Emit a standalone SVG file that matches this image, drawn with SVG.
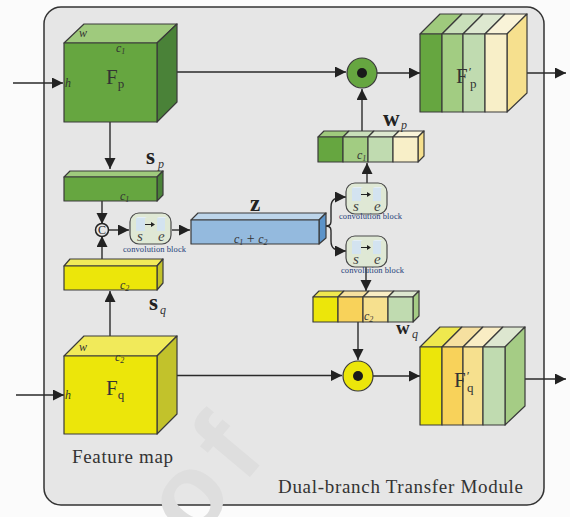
<svg xmlns="http://www.w3.org/2000/svg" width="570" height="517" viewBox="0 0 570 517">
<style>
.s{stroke:#3a3a3a;stroke-width:1.2;stroke-linejoin:round}
.c{fill:none;stroke:#2a2a2a;stroke-width:1.4}
.t{font-family:"Liberation Serif",serif;fill:#333}
.i{font-style:italic;font-size:12px}
.b{font-weight:bold;font-size:23px;fill:#222}
.sub{font-size:13px}
.big{font-size:21px}
.cb{font-family:"Liberation Serif",serif;font-size:8.5px;fill:#1f3f7a}
.se{font-family:"Liberation Serif",serif;font-style:italic;font-size:15px;fill:#444}
.pr{fill:#d3e3f0}
.g1{fill:#66a640}.g2{fill:#a2cc82}.g3{fill:#c0dbb0}.cr{fill:#f8efc8}.y1{fill:#ece60a}.y2{fill:#f8d25a}.y3{fill:#f6e08e}
</style>
<defs>
<marker id="a" markerUnits="userSpaceOnUse" markerWidth="12" markerHeight="12" refX="11" refY="5.500" orient="auto"><path d="M0 0L11 5.500L0 11Z" fill="#222"/></marker>
<g id="cbk">
<rect width="41" height="31" rx="9" fill="#dfe8d5" stroke="#4a4a4a" stroke-width="1.2"/>
<path class="pr" d="M6 5h9v13h-9z"/><path fill="#e4eef6" d="M6 5l2-1h9l-2 1z"/>
<path class="pr" d="M27 5h8v13h-8z"/><path fill="#e4eef6" d="M27 5l2-1h8l-2 1z"/>
<path d="M15 11.500h8" stroke="#222" stroke-width="1"/><path d="M21 9l4 2.500l-4 2.500z" fill="#222"/>
<text class="se" x="7" y="28">s</text><text class="se" x="28" y="28">e</text>
</g>
</defs>
<rect width="570" height="517" fill="#fbfbfb"/>
<g id="panel"><rect x="44" y="7" width="500" height="498" rx="17" fill="#e6e6e6" stroke="#333" stroke-width="1.5"/></g>
<text transform="translate(193 545) rotate(-50)" font-family="Liberation Sans,sans-serif" font-weight="bold" font-size="110" fill="#dedede">o<tspan dx="11">f</tspan></text>

<g id="connectors">
<path class="c" d="M13 83H63" marker-end="url(#a)"/>
<path class="c" d="M16 395H64" marker-end="url(#a)"/>
<path class="c" d="M177 72H346" marker-end="url(#a)"/>
<path class="c" d="M377 73H420" marker-end="url(#a)"/>
<path class="c" d="M518 73H566" marker-end="url(#a)"/>
<path class="c" d="M362 131V89" marker-end="url(#a)"/>
<path class="c" d="M110 122V169" marker-end="url(#a)"/>
<path class="c" d="M102 201V224" marker-end="url(#a)"/>
<path class="c" d="M102 259V236" marker-end="url(#a)"/>
<path class="c" d="M108 230H129" marker-end="url(#a)"/>
<path class="c" d="M172 230H190" marker-end="url(#a)"/>
<path class="c" d="M110 336V291" marker-end="url(#a)"/>
<path class="c" d="M326 226C332 226 331 222 331 216V207C331 200 334 197 346 197" marker-end="url(#a)"/>
<path class="c" d="M326 226C332 226 331 230 331 236V241C331 248 334 251 346 251" marker-end="url(#a)"/>
<path class="c" d="M367 183V163" marker-end="url(#a)"/>
<path class="c" d="M366 266V291" marker-end="url(#a)"/>
<path class="c" d="M358 322V360" marker-end="url(#a)"/>
<path class="c" d="M177 375.500H342" marker-end="url(#a)"/>
<path class="c" d="M373 376H420" marker-end="url(#a)"/>
<path class="c" d="M518 379H566" marker-end="url(#a)"/>
</g>

<g id="Fp">
<path class="s" fill="#9fca7d" d="M64 43L84 24H177L157 43Z"/>
<path class="s" fill="#4a8238" d="M157 43L177 24V102L157 122Z"/>
<rect class="s g1" x="64" y="43" width="93" height="79"/>
<text class="t i" x="79" y="37">w</text><text class="t i" x="116" y="52">c<tspan font-size="8" dy="2">1</tspan></text><text class="t i" font-size="13" x="65" y="87">h</text>
<text class="t big" x="106" y="84">F<tspan class="sub" dy="4">p</tspan></text>
</g>
<g id="Fq">
<path class="s" fill="#f1ea5a" d="M64 356L84 336H177L157 356Z"/>
<path class="s" fill="#c2c22b" d="M157 356L177 336V414L157 434Z"/>
<rect class="s y1" x="64" y="356" width="93" height="78"/>
<text class="t i" x="79" y="351">w</text><text class="t i" x="115" y="361">c<tspan font-size="8" dy="2">2</tspan></text><text class="t i" x="65" y="399">h</text>
<text class="t big" x="106" y="395">F<tspan class="sub" dy="4">q</tspan></text>
</g>
<g id="sp">
<path class="s" fill="#9fca7d" d="M64 177L70 171H163L157 177Z"/>
<path class="s" fill="#4a8238" d="M157 177L163 171V195L157 201Z"/>
<rect class="s g1" x="64" y="177" width="93" height="24"/>
<text class="t i" x="120" y="200">c<tspan font-size="8" dy="2">1</tspan></text>
<text class="t b" x="146" y="164">s</text><text class="t i" font-size="14" x="158" y="168">p</text>
</g>
<g id="sq">
<path class="s" fill="#f1ea5a" d="M64 266L70 259H163L157 266Z"/>
<path class="s" fill="#c2c22b" d="M157 266L163 259V283L157 290Z"/>
<rect class="s y1" x="64" y="266" width="93" height="24"/>
<text class="t i" x="120" y="289">c<tspan font-size="8" dy="2">2</tspan></text>
<text class="t b" x="149" y="310">s</text><text class="t i" font-size="14" x="160" y="314">q</text>
</g>
<g id="concat">
<circle cx="102" cy="230" r="6.500" fill="#e6e6e6" stroke="#222" stroke-width="1.5"/>
<text class="t" font-size="12" text-anchor="middle" x="102" y="234" style="fill:#222">C</text>
</g>
<g id="block1"><use href="#cbk" x="130" y="213"/><text class="cb" x="123" y="252" textLength="63">convolution block</text></g>
<g id="z">
<path class="s" fill="#bdd5ea" d="M191 220L198 213H326L319 220Z"/>
<path class="s" fill="#5b93c9" d="M319 220L326 213V238L319 244Z"/>
<rect class="s" fill="#94bade" x="191" y="220" width="128" height="24"/>
<text class="t b" x="250" y="211">z</text>
<text class="t i" x="234" y="243">c<tspan font-size="8" dy="2">1</tspan><tspan font-style="normal" font-size="14" dy="-2"> + </tspan><tspan>c</tspan><tspan font-size="8" dy="2">2</tspan></text>
</g>
<g id="block2"><use href="#cbk" x="346" y="183"/><text class="cb" x="339" y="219" textLength="63">convolution block</text></g>
<g id="block3"><use href="#cbk" x="346" y="236"/><text class="cb" x="341" y="273" textLength="63">convolution block</text></g>
<g id="wp">
<path class="s" fill="#9fca7d" d="M318 137L324 131H349L343 137Z"/>
<path class="s" fill="#c9dfba" d="M343 137L349 131H374L368 137Z"/>
<path class="s" fill="#dde8d0" d="M368 137L374 131H399L393 137Z"/>
<path class="s" fill="#f9f3d8" d="M393 137L399 131H424L418 137Z"/>
<path class="s y3" d="M418 137L424 131V156L418 162Z"/>
<rect class="s g1" x="318" y="137" width="25" height="25"/><rect class="s g2" x="343" y="137" width="25" height="25"/><rect class="s g3" x="368" y="137" width="25" height="25"/><rect class="s cr" x="393" y="137" width="25" height="25"/>
<text class="t i" x="357" y="159">c<tspan font-size="8" dy="2">1</tspan></text>
<text class="t b" x="383" y="126">w</text><text class="t i" font-size="14" x="401" y="129">p</text>
</g>
<g id="wq">
<path class="s" fill="#efe84e" d="M313 297L319 291H344L338 297Z"/>
<path class="s" fill="#f6e0a0" d="M338 297L344 291H369L363 297Z"/>
<path class="s" fill="#f9edc4" d="M363 297L369 291H394L388 297Z"/>
<path class="s" fill="#dde7d0" d="M388 297L394 291H419L413 297Z"/>
<path class="s" fill="#a5cc85" d="M413 297L419 291V316L413 322Z"/>
<rect class="s y1" x="313" y="297" width="25" height="25"/><rect class="s y2" x="338" y="297" width="25" height="25"/><rect class="s y3" x="363" y="297" width="25" height="25"/><rect class="s g3" x="388" y="297" width="25" height="25"/>
<text class="t i" x="364" y="320">c<tspan font-size="8" dy="2">2</tspan></text>
<text class="t b" style="font-size:19px" x="396" y="334">w</text><text class="t i" x="412" y="338">q</text>
</g>
<g id="mulp"><circle class="s g1" cx="362" cy="73" r="15"/><circle cx="362" cy="73" r="5" fill="#1a1a1a"/></g>
<g id="mulq"><circle class="s y1" cx="358" cy="376" r="15"/><circle cx="358" cy="376" r="5" fill="#1a1a1a"/></g>
<g id="Fpp">
<path class="s" fill="#9fca7d" d="M420 34L440 14H462L442 34Z"/>
<path class="s" fill="#c9dfba" d="M442 34L462 14H483L463 34Z"/>
<path class="s" fill="#dde8d0" d="M463 34L483 14H505L485 34Z"/>
<path class="s" fill="#f9f3d8" d="M485 34L505 14H527L507 34Z"/>
<path class="s y3" d="M507 34L527 14V93L507 112Z"/>
<rect class="s g1" x="420" y="34" width="22" height="78"/><rect class="s g2" x="442" y="34" width="21" height="78"/><rect class="s g3" x="463" y="34" width="22" height="78"/><rect class="s cr" x="485" y="34" width="22" height="78"/>
<text class="t big" x="456" y="83">F<tspan class="sub" dy="-7" dx="1">′</tspan></text><text class="t sub" x="470" y="88">p</text>
</g>
<g id="Fqp">
<path class="s" fill="#efe84e" d="M420 347L440 327H462L442 347Z"/>
<path class="s" fill="#f6e0a0" d="M442 347L462 327H483L463 347Z"/>
<path class="s" fill="#f9edc4" d="M463 347L483 327H503L483 347Z"/>
<path class="s" fill="#dde7d0" d="M483 347L503 327H525L505 347Z"/>
<path class="s" fill="#a5cc85" d="M505 347L525 327V406L505 425Z"/>
<rect class="s y1" x="420" y="347" width="22" height="78"/><rect class="s y2" x="442" y="347" width="21" height="78"/><rect class="s y3" x="463" y="347" width="20" height="78"/><rect class="s g3" x="483" y="347" width="22" height="78"/>
<text class="t big" x="454" y="387">F<tspan class="sub" dy="-7" dx="1">′</tspan></text><text class="t sub" x="467" y="392">q</text>
</g>
<text class="t" font-size="19" x="72" y="463" textLength="101">Feature map</text>
<text class="t" font-size="19" x="278" y="493" textLength="245">Dual-branch Transfer Module</text>
</svg>
